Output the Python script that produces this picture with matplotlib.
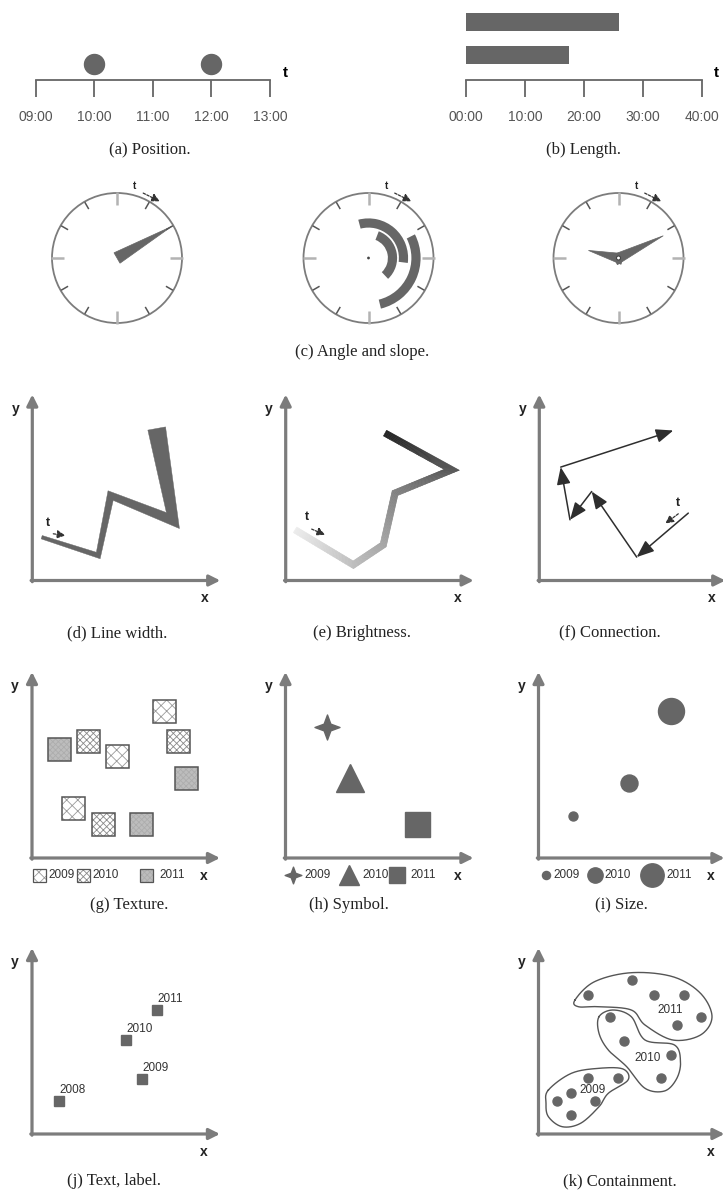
import numpy as np
import matplotlib
matplotlib.use('Agg')
import matplotlib.pyplot as plt
from matplotlib.patches import Circle, Wedge, Polygon, Rectangle
from matplotlib.collections import PolyCollection
from matplotlib.path import Path

plt.rcParams['font.family'] = ['Liberation Sans', 'DejaVu Sans']
plt.rcParams['hatch.linewidth'] = 0.6

# ------------------------------------------------------------------ data
# (a) position
pos_hours = [9, 10, 11, 12, 13]
pos_labels = ['09:00', '10:00', '11:00', '12:00', '13:00']
pos_events = [10, 12]
# (b) length (minutes)
len_ticks = [0, 10, 20, 30, 40]
len_labels = ['00:00', '10:00', '20:00', '30:00', '40:00']
len_durations = [26, 17.5]
# (c) angle and slope (minutes on a clock face)
clock1_minute = 10
arc_start = [-2.5, 3.5, 10.5]
arc_end = [16.2, 22.8, 27.7]
arc_radius = [35, 24, 47.5]
clock3_minute = 10.6
clock3_hour = 9.47
# (d) line width
lw_x = [9.4, 66, 78.4, 141, 124.4]
lw_y = [43.3, 25, 85, 60, 152]
lw_w = [3.5, 5, 7, 10, 18]
# (e) brightness
br_x = [9.3, 67.6, 97.6, 109.3, 166, 99.3]
br_y = [50.7, 15.7, 35.7, 87.4, 110.7, 147.4]
# (f) connection
cn_x = [149, 97.4, 52.4, 30.7, 21.4, 134]
cn_y = [67.4, 23.4, 89, 60.7, 113.4, 150]
# (g) texture
tex_x = [27, 56.5, 85.5, 132, 146.8, 154, 41.7, 71.2, 109]
tex_y = [109, 117, 102, 146.3, 117, 79.7, 49.7, 34, 34]
tex_year = [2011, 2010, 2009, 2009, 2010, 2011, 2009, 2010, 2011]
# (h) symbol
sym_year = [2009, 2010, 2011]
sym_x = [41, 64, 131.5]
sym_y = [131.5, 80, 34.5]
# (i) size
size_year = [2009, 2010, 2011]
size_x = [34, 90.5, 132]
size_y = [42, 75.5, 147]
size_d = [9, 17, 26]
# (j) text label
lab_year = [2008, 2009, 2010, 2011]
lab_x = [26.5, 110, 93.8, 124.7]
lab_y = [33.3, 55, 94, 124]
# (k) containment
cont_x = [93.8, 49.1, 115.9, 145.8, 162, 138.9,
          71.2, 85.9, 132, 122.8,
          49.1, 79, 32.9, 56, 18.2, 32.9]
cont_y = [154, 139, 139, 139, 116.7, 109,
          116.7, 93.3, 79, 55.7,
          55.7, 55.7, 41.3, 33.3, 33.3, 19]
cont_year = [2011] * 6 + [2010] * 4 + [2009] * 6
cont_label_xy = {2011: (132, 124), 2010: (109, 75.7), 2009: (54.5, 44)}
hull_2011_x = [36.5, 56, 92.8, 134.3, 162, 173.5, 162, 134.3, 106.5, 92.8, 60.5, 39.8]
hull_2011_y = [134, 152.3, 161.3, 157.3, 140.7, 117.3, 99, 94, 109, 124, 127.3, 127.3]
hull_2010_x = [60.5, 74.5, 92.8, 106.5, 136, 142, 138, 126, 106.5, 88.2, 69.8, 60.5]
hull_2010_y = [117.3, 124, 117.3, 94, 89, 72, 55, 43, 45.7, 67.3, 84, 100.7]
hull_2009_x = [9.9, 32.9, 60.5, 84.5, 89.5, 69.8, 60.5, 42.1, 23.7, 9.9, 7.5]
hull_2009_y = [44, 60.7, 65.7, 65, 54, 40.7, 27.3, 10.7, 7.3, 17.3, 30.7]

captions = {
    'a': ('(a) Position.', 150, 150), 'b': ('(b) Length.', 583, 150),
    'c': ('(c) Angle and slope.', 362, 352),
    'd': ('(d) Line width.', 117, 633), 'e': ('(e) Brightness.', 362, 633),
    'f': ('(f) Connection.', 610, 633),
    'g': ('(g) Texture.', 129, 905), 'h': ('(h) Symbol.', 349, 905),
    'i': ('(i) Size.', 621, 905),
    'j': ('(j) Text, label.', 114, 1181), 'k': ('(k) Containment.', 620, 1181),
}

# ------------------------------------------------------------------ setup
W, H = 723, 1194
fig = plt.figure(figsize=(W / 100, H / 100), dpi=100)
GRAY = '#666666'
AXC = '#7c7c7c'
DARK = '#2e2e2e'
SERIF = 'Liberation Serif'


def px_axes(x0, y0, x1, y1, ox, oy):
    """Axes covering pixel box, data unit = 1 px, origin at (ox, oy)."""
    x1 = min(x1, W)
    ax = fig.add_axes([x0 / W, 1 - y1 / H, (x1 - x0) / W, (y1 - y0) / H])
    ax.set_xlim(x0 - ox, x1 - ox)
    ax.set_ylim(oy - y1, oy - y0)
    ax.axis('off')
    return ax


def small_t(ax, tx, ty, a0, a1, fs=9):
    ax.text(tx, ty, 't', fontsize=fs, fontweight='bold', ha='center', va='center', color='#222')
    ax.annotate('', xy=a1, xytext=a0,
                arrowprops=dict(arrowstyle='-|>,head_length=0.6,head_width=0.3',
                                linestyle=(0, (2, 1.2)), lw=0.9, color='#333',
                                mutation_scale=8, shrinkA=0, shrinkB=0),
                annotation_clip=False)


def xy_frame(ax, xlen=188, ylen=186):
    kw = dict(arrowstyle='-|>,head_length=0.5,head_width=0.25', color=AXC, lw=2.3,
              shrinkA=0, shrinkB=0, mutation_scale=13)
    ax.annotate('', xy=(0, ylen), xytext=(0, -1.2), arrowprops=kw, annotation_clip=False)
    ax.annotate('', xy=(xlen, 0), xytext=(-1.2, 0), arrowprops=kw, annotation_clip=False)
    ax.text(-17, 172, 'y', fontsize=10, fontweight='bold', ha='center', va='center', color='#222')
    ax.text(172, -18, 'x', fontsize=10, fontweight='bold', ha='center', va='center', color='#222')


def ribbon(px, py, widths):
    pts = np.column_stack([px, py]).astype(float)
    w = np.asarray(widths, float) / 2
    n = len(pts)
    seg = pts[1:] - pts[:-1]
    d = seg / np.linalg.norm(seg, axis=1)[:, None]
    nr = np.column_stack([-d[:, 1], d[:, 0]])
    L = np.zeros_like(pts)
    R = np.zeros_like(pts)

    def inter(p1, d1, p2, d2):
        A = np.array([d1, -d2]).T
        t, _ = np.linalg.solve(A, p2 - p1)
        return p1 + t * d1

    for i in range(n):
        if i == 0:
            L[i] = pts[0] + nr[0] * w[0]
            R[i] = pts[0] - nr[0] * w[0]
        elif i == n - 1:
            L[i] = pts[-1] + nr[-1] * w[-1]
            R[i] = pts[-1] - nr[-1] * w[-1]
        else:
            for side, arr in ((1, L), (-1, R)):
                a1 = pts[i - 1] + side * nr[i - 1] * w[i - 1]
                a2 = pts[i] + side * nr[i - 1] * w[i]
                b1 = pts[i] + side * nr[i] * w[i]
                b2 = pts[i + 1] + side * nr[i] * w[i + 1]
                arr[i] = inter(a1, a2 - a1, b1, b2 - b1)
    return pts, L, R


def smooth_closed(px, py, n=24):
    P = np.column_stack([px, py]).astype(float)
    m = len(P)
    out = []
    t = np.linspace(0, 1, n, endpoint=False)[:, None]
    for i in range(m):
        p0, p1, p2, p3 = P[i - 1], P[i], P[(i + 1) % m], P[(i + 2) % m]
        out.append(0.5 * ((2 * p1) + (-p0 + p2) * t + (2 * p0 - 5 * p1 + 4 * p2 - p3) * t ** 2
                          + (-p0 + 3 * p1 - 3 * p2 + p3) * t ** 3))
    out = np.vstack(out)
    return np.vstack([out, out[:1]])


# ------------------------------------------------------------------ (a)
x_a0, px_per_h = 36, 58.5
axa = fig.add_axes([0, 1 - 170 / H, 300 / W, 170 / H])
axa.set_xlim(9 + (0 - x_a0) / px_per_h, 9 + (300 - x_a0) / px_per_h)
axa.set_ylim(80 - 170, 80)
# (b)
x_b0, px_per_m = 466, 5.9
axb = fig.add_axes([430 / W, 1 - 170 / H, 293 / W, 170 / H])
axb.set_xlim((430 - x_b0) / px_per_m, (723 - x_b0) / px_per_m)
axb.set_ylim(80 - 170, 80)

for ax, ticks, labels, lo, hi in ((axa, pos_hours, pos_labels, 9, 13),
                                  (axb, len_ticks, len_labels, 0, 40)):
    ax.patch.set_visible(False)
    for s in ('top', 'right', 'left'):
        ax.spines[s].set_visible(False)
    ax.spines['bottom'].set_position(('data', 0))
    ax.spines['bottom'].set_bounds(lo, hi)
    ax.spines['bottom'].set_color(GRAY)
    ax.spines['bottom'].set_linewidth(1.3)
    ax.set_yticks([])
    ax.set_xticks(ticks, labels)
    ax.tick_params(axis='x', direction='out', length=12.5, width=1.3, color=GRAY,
                   labelsize=10, labelcolor='#555555', pad=9)

axa.plot(pos_events, [16] * len(pos_events), 'o', ms=14.4, color=GRAY, mec=GRAY, clip_on=False)
axa.text(9 + (285 - x_a0) / px_per_h, 7, 't', fontsize=11, fontweight='bold', ha='center', va='center')

axb.barh([58, 25], len_durations, height=18, left=0, color=GRAY)
axb.text((716 - x_b0) / px_per_m, 7, 't', fontsize=11, fontweight='bold', ha='center', va='center')

# ------------------------------------------------------------------ (c)
R_CLK = 65


def m2a(minute):
    return np.deg2rad(minute * 6.0)


def clock_face(cx):
    ax = px_axes(cx - 85, 175, cx + 85, 340, cx, 258)
    ax.add_patch(Circle((0, 0), R_CLK, fill=False, ec=AXC, lw=1.3))
    for k in range(12):
        a = np.deg2rad(k * 30)
        s, c = np.sin(a), np.cos(a)
        if k % 3 == 0:
            r0, r1, col, lw = 53, 66, '#b3b3b3', 1.8
        else:
            r0, r1, col, lw = 56.5, 64.5, '#555555', 1.1
        ax.plot([r0 * s, r1 * s], [r0 * c, r1 * c], color=col, lw=lw, solid_capstyle='butt')
    a_t, a0, a1 = np.deg2rad(14), np.deg2rad(22), np.deg2rad(37)
    small_t(ax, 74 * np.sin(a_t), 74 * np.cos(a_t),
            (70 * np.sin(a0), 70 * np.cos(a0)), (71 * np.sin(a1), 71 * np.cos(a1)), fs=7)
    return ax


def hand(ax, minute, length, half_w, back):
    a = m2a(minute)
    d = np.array([np.sin(a), np.cos(a)])
    nrm = np.array([d[1], -d[0]])
    pts = [length * d, -back * d + half_w * nrm, -back * d - half_w * nrm]
    ax.add_patch(Polygon(pts, closed=True, fc=GRAY, ec=GRAY, lw=0.5))


ax1 = clock_face(117)
hand(ax1, clock1_minute, 63, 6, 0)

ax2 = clock_face(368.5)
for st, en, r in zip(arc_start, arc_end, arc_radius):
    ax2.add_patch(Wedge((0, 0), r + 4.6, 90 - en * 6, 90 - st * 6, width=9.2, fc=GRAY, ec='none'))
ax2.add_patch(Circle((0, 0), 1.4, fc='#444444', ec='none'))

ax3 = clock_face(618.5)
hand(ax3, clock3_minute, 50, 5.5, 4)
hand(ax3, clock3_hour * 5, 31, 5.5, 4)
ax3.add_patch(Circle((0, 0), 2.0, fc='white', ec='#444444', lw=0.8, zorder=5))

# ------------------------------------------------------------------ (d)
axd = px_axes(0, 370, 240, 620, 32.3, 580.5)
xy_frame(axd)
pts, L, R = ribbon(lw_x, lw_y, lw_w)
axd.add_patch(Polygon(np.vstack([L, R[::-1]]), closed=True, fc=GRAY, ec=GRAY, lw=0.3))
small_t(axd, 16, 57, (21, 46.7), (33, 45))

# ------------------------------------------------------------------ (e)
axe = px_axes(245, 370, 485, 620, 285.7, 580.5)
xy_frame(axe)
pts, L, R = ribbon(br_x, br_y, [6.5] * len(br_x))
seglen = np.linalg.norm(pts[1:] - pts[:-1], axis=1)
cum = np.concatenate([[0], np.cumsum(seglen)])
total = cum[-1]
polys, cols = [], []
NSUB = 40
for j in range(len(pts) - 1):
    for k in range(NSUB):
        s0, s1 = k / NSUB, (k + 1) / NSUB
        q = [L[j] + s0 * (L[j + 1] - L[j]), L[j] + s1 * (L[j + 1] - L[j]),
             R[j] + s1 * (R[j + 1] - R[j]), R[j] + s0 * (R[j + 1] - R[j])]
        t = (cum[j] + (s0 + s1) / 2 * seglen[j]) / total
        g = 0.93 - (0.93 - 0.14) * t
        polys.append(q)
        cols.append((g, g, g))
axe.add_collection(PolyCollection(polys, facecolors=cols, edgecolors=cols, linewidths=0.4))
small_t(axe, 21, 64, (26, 51.4), (39.3, 45.7))

# ------------------------------------------------------------------ (f)
axf = px_axes(490, 370, 723, 620, 539.3, 580.5)
xy_frame(axf, xlen=186)
for i in range(len(cn_x) - 1):
    axf.annotate('', xy=(cn_x[i + 1], cn_y[i + 1]), xytext=(cn_x[i], cn_y[i]),
                 arrowprops=dict(arrowstyle='-|>,head_length=0.75,head_width=0.3', color=DARK,
                                 lw=1.1, mutation_scale=14, shrinkA=0, shrinkB=0))
small_t(axf, 139, 77, (139, 66.7), (126, 57))

# ------------------------------------------------------------------ (g)
TEX = {2009: dict(fc='white', hc='#9a9a9a', hatch='xxx'),
       2010: dict(fc='white', hc='#8a8a8a', hatch='xxxxx'),
       2011: dict(fc='#bdbdbd', hc='#adadad', hatch='xxxxxx')}


def tex_square(ax, x, y, size, year, lw=1.1):
    st = TEX[year]
    ax.add_patch(Rectangle((x - size / 2, y - size / 2), size, size, fc=st['fc'],
                           ec=st['hc'], hatch=st['hatch'], lw=0, clip_on=False))
    ax.add_patch(Rectangle((x - size / 2, y - size / 2), size, size, fill=False,
                           ec='#555555', lw=lw, clip_on=False))


axg = px_axes(0, 650, 240, 900, 32, 858)
xy_frame(axg)
for x, y, yr in zip(tex_x, tex_y, tex_year):
    tex_square(axg, x, y, 23, yr)
for yr, sx, tx in zip([2009, 2010, 2011], [7, 51, 114], [16, 60, 127]):
    tex_square(axg, sx, -17, 13, yr, lw=0.9)
    axg.text(tx, -17, str(yr), fontsize=8.5, ha='left', va='center', color='#333')

# ------------------------------------------------------------------ (h)
star = Path([(0, 1), (0.27, 0.27), (1, 0), (0.27, -0.27), (0, -1), (-0.27, -0.27),
             (-1, 0), (-0.27, 0.27), (0, 1)],
            [Path.MOVETO] + [Path.LINETO] * 7 + [Path.CLOSEPOLY])
SYM = {2009: (star, 18, 12), 2010: ('^', 20, 14), 2011: ('s', 18, 11.5)}
axh = px_axes(250, 650, 490, 900, 285.5, 858)
xy_frame(axh)
for x, y, yr in zip(sym_x, sym_y, sym_year):
    m, ms, _ = SYM[yr]
    axh.plot([x], [y], marker=m, ms=ms, color=GRAY, mec=GRAY, ls='none')
for yr, sx, tx in zip(sym_year, [7, 63.5, 111.5], [18.5, 76.5, 124.5]):
    m, _, lms = SYM[yr]
    axh.plot([sx], [-17], marker=m, ms=lms, color=GRAY, mec=GRAY, ls='none', clip_on=False)
    axh.text(tx, -17, str(yr), fontsize=8.5, ha='left', va='center', color='#333')

# ------------------------------------------------------------------ (i)
axi = px_axes(500, 650, 723, 900, 538.5, 858)
xy_frame(axi, xlen=186)
for x, y, d in zip(size_x, size_y, size_d):
    axi.plot([x], [y], 'o', ms=d / 1.389, color=GRAY, mec=GRAY)
for yr, d, sx, tx in zip(size_year, size_d, [7.5, 56, 113.5], [14.5, 65.5, 127.5]):
    axi.plot([sx], [-17], 'o', ms=d * 0.9 / 1.389, color=GRAY, mec=GRAY, clip_on=False)
    axi.text(tx, -17, str(yr), fontsize=8.5, ha='left', va='center', color='#333')

# ------------------------------------------------------------------ (j)
axj = px_axes(0, 930, 240, 1170, 32, 1134)
xy_frame(axj)
axj.plot(lab_x, lab_y, 's', ms=6.5, color=GRAY, mec=GRAY, ls='none')
for x, y, yr in zip(lab_x, lab_y, lab_year):
    axj.text(x + 0.5, y + 5, str(yr), fontsize=8.5, ha='left', va='bottom', color='#333')

# ------------------------------------------------------------------ (k)
axk = px_axes(500, 930, 723, 1170, 538.5, 1134)
xy_frame(axk, xlen=186)
for hx, hy in ((hull_2011_x, hull_2011_y), (hull_2010_x, hull_2010_y), (hull_2009_x, hull_2009_y)):
    c = smooth_closed(hx, hy)
    axk.plot(c[:, 0], c[:, 1], color='#555555', lw=1.0)
axk.plot(cont_x, cont_y, 'o', ms=6.5, color=GRAY, mec=GRAY, ls='none')
for yr, (x, y) in cont_label_xy.items():
    axk.text(x, y, str(yr), fontsize=8.5, ha='center', va='center', color='#333')

# ------------------------------------------------------------------ captions
for key, (txt, x, y) in captions.items():
    fig.text(x / W, 1 - y / H, txt, fontsize=12, family=SERIF, ha='center', va='center', color='#222')

fig.savefig('out.png', dpi=100, facecolor='white')
